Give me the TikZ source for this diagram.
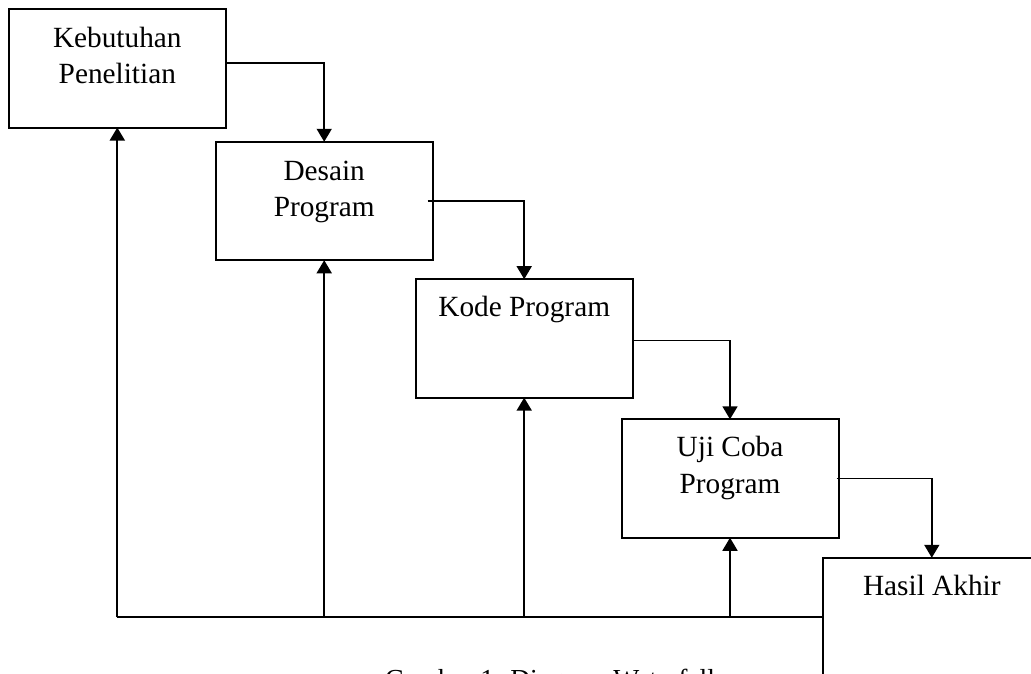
\documentclass[tikz,border=0pt]{standalone}
\usepackage{fontspec}
\setmainfont{Liberation Serif}
\usetikzlibrary{arrows.meta}
\begin{document}
\begin{tikzpicture}[x=1pt,y=-1pt,
  boxst/.style={draw,line width=2pt,minimum width=217pt,minimum height=118.5pt,inner sep=0pt,outer sep=0pt},
  lbl/.style={anchor=base,inner sep=0pt,font=\fontsize{29.3}{34}\selectfont},
  caplbl/.style={anchor=base,inner sep=0pt,font=\fontsize{27.5}{32}\selectfont},
  conn/.style={line width=1.8pt},
  arr/.style={conn,-{Triangle[length=13pt,width=15pt]}}]
\useasboundingbox (0,0) rectangle (1031,673);
% boxes
\node[boxst] (b1) at (117.3,68.3) {};
\node[boxst] (b2) at (324.2,201) {};
\node[boxst] (b3) at (524.2,338.4) {};
\node[boxst] (b4) at (730,478.5) {};
\node[boxst] (b5) at (931.8,617) {};
% texts
\node[lbl] (t1a) at (117.3,47) {Kebutuhan};
\node[lbl] (t1b) at (117.3,83) {Penelitian};
\node[lbl] (t2a) at (324.2,180) {Desain};
\node[lbl] (t2b) at (324.2,216) {Program};
\node[lbl] (t3) at (524.2,316.7) {Kode Program};
\node[lbl] (t4a) at (730,456.7) {Uji Coba};
\node[lbl] (t4b) at (730,493) {Program};
\node[lbl] (t5) at (931.8,595) {Hasil Akhir};
\node[caplbl] (cap) at (550,688) {Gambar 1. Diagram Waterfall};
% forward arrows
\draw[arr] ([yshift=5pt]b1.east) -| (b2.north);
\draw[arr] ([xshift=-5pt]b2.east) -| (b3.north);
\draw[arr] ([yshift=-2pt]b3.east) -| (b4.north);
\draw[arr] ([xshift=-2pt]b4.east) -| (b5.north);
% feedback
\coordinate (fb) at (117.3,617.3);
\draw[conn] (b5.west |- fb) -- (fb);
\draw[arr] (fb) -- (b1.south);
\draw[arr] (b2.south |- fb) -- (b2.south);
\draw[arr] (b3.south |- fb) -- (b3.south);
\draw[arr] (b4.south |- fb) -- (b4.south);
\end{tikzpicture}
\end{document}
